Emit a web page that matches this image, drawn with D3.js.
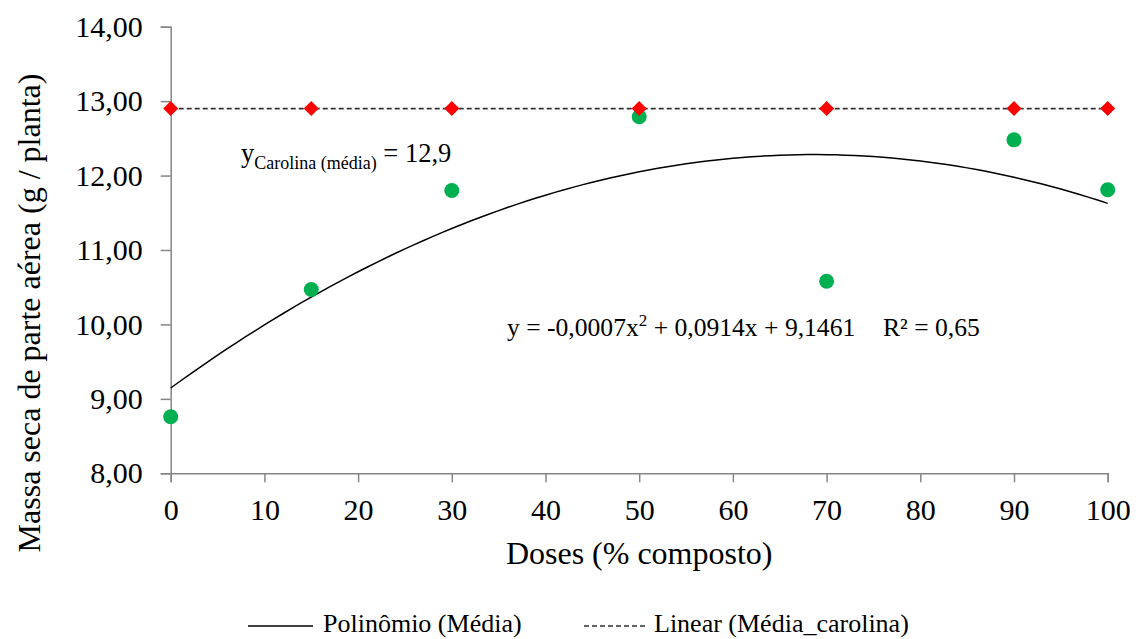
<!DOCTYPE html>
<html>
<head>
<meta charset="utf-8">
<script src="https://cdn.jsdelivr.net/npm/d3@7"></script>
<style>
  html, body { margin: 0; padding: 0; background: #fff; }
  svg { display: block; }
  svg text { font-family: "Liberation Serif", "Times New Roman", serif; fill: #000; }
</style>
</head>
<body>
<svg id="chart" width="1140" height="639"></svg>
<script>
// Doses of compost (% composto)
const doses = [0, 15, 30, 50, 70, 90, 100];
// Mean shoot dry mass per dose (g / planta)
const massaMedia = [8.76, 10.47, 11.80, 12.79, 10.58, 12.48, 11.81];
// Reference mean for Carolina at every dose
const mediaCarolina = [12.9, 12.9, 12.9, 12.9, 12.9, 12.9, 12.9];
// Quadratic trendline coefficients: a·x² + b·x + c
const polyCoef = [-0.000666, 0.0914, 9.1461];
const r2 = 0.65;
const xTicks = [0, 10, 20, 30, 40, 50, 60, 70, 80, 90, 100];
const yTicks = [8, 9, 10, 11, 12, 13, 14];

const svg = d3.select("#chart");
const axisColor = "#868686";

const x = d3.scaleLinear().domain([0, 100]).range([170.7, 1107.7]);
const y = d3.scaleLinear().domain([8, 14]).range([473.3, 26.7]);

const fmtComma = (v, d) => v.toFixed(d).replace(".", ",");

// Y axis
const yAxis = svg.append("g")
  .attr("transform", `translate(${x(0)},0)`)
  .call(d3.axisLeft(y).tickValues(yTicks).tickSize(10).tickPadding(18)
    .tickFormat(d => fmtComma(d, 2)));
yAxis.select(".domain").attr("stroke", axisColor).attr("stroke-width", 1.5);
yAxis.selectAll(".tick line").attr("stroke", axisColor).attr("stroke-width", 1.5);
yAxis.selectAll(".tick text").attr("font-size", 30);

// X axis
const xAxis = svg.append("g")
  .attr("transform", `translate(0,${y(8)})`)
  .call(d3.axisBottom(x).tickValues(xTicks).tickSize(9).tickPadding(16)
    .tickFormat(d => String(d)));
xAxis.select(".domain").attr("stroke", axisColor).attr("stroke-width", 1.5);
xAxis.selectAll(".tick line").attr("stroke", axisColor).attr("stroke-width", 1.5);
xAxis.selectAll(".tick text").attr("font-size", 30);

// Axis titles
svg.append("text")
  .attr("x", (x(0) + x(100)) / 2).attr("y", 564)
  .attr("text-anchor", "middle").attr("font-size", 32)
  .text("Doses (% composto)");

svg.append("text")
  .attr("transform", "translate(40,313) rotate(-90)")
  .attr("text-anchor", "middle").attr("font-size", 32)
  .text("Massa seca de parte aérea (g / planta)");

// Carolina mean: dashed linear trendline
const carolinaLine = d3.line().x((d, i) => x(doses[i])).y(d => y(d));
svg.append("path")
  .datum(mediaCarolina)
  .attr("d", carolinaLine)
  .attr("fill", "none").attr("stroke", "#333").attr("stroke-width", 1.6)
  .attr("stroke-dasharray", "5,3");

// Polynomial trendline over the dose range
const polyVal = t => polyCoef[0] * t * t + polyCoef[1] * t + polyCoef[2];
const curveX = d3.range(0, 100.5, 1);
svg.append("path")
  .datum(curveX)
  .attr("d", d3.line().x(d => x(d)).y(d => y(polyVal(d))))
  .attr("fill", "none").attr("stroke", "#000").attr("stroke-width", 1.5);

// Green points: mean values
svg.append("g").selectAll("circle")
  .data(massaMedia)
  .join("circle")
  .attr("cx", (d, i) => x(doses[i]))
  .attr("cy", d => y(d))
  .attr("r", 7.5)
  .attr("fill", "#00B050");

// Red diamonds: Carolina mean
svg.append("g").selectAll("path")
  .data(mediaCarolina)
  .join("path")
  .attr("transform", (d, i) => `translate(${x(doses[i])},${y(d)})`)
  .attr("d", "M0,-7.5L7.5,0L0,7.5L-7.5,0Z")
  .attr("fill", "#FF0000");

// Carolina mean label
const lab = svg.append("text").attr("x", 241).attr("y", 162).attr("font-size", 26.5);
lab.append("tspan").text("y");
lab.append("tspan").attr("font-size", 18).attr("dy", 6.5).text("Carolina (média)");
lab.append("tspan").attr("dy", -6.5).text(" = " + fmtComma(mediaCarolina[0], 1));

// Regression equation
const fmt4 = v => fmtComma(Math.abs(v), 4);
const eq = svg.append("text").attr("x", 507).attr("y", 336).attr("font-size", 25.6);
eq.append("tspan").text("y = " + (polyCoef[0] < 0 ? "-" : "") + fmt4(polyCoef[0]) + "x");
eq.append("tspan").attr("font-size", 17).attr("dy", -10).text("2");
eq.append("tspan").attr("dy", 10)
  .text(" + " + fmt4(polyCoef[1]) + "x + " + fmt4(polyCoef[2]));
svg.append("text").attr("x", 883).attr("y", 336).attr("font-size", 25.6)
  .text("R² = " + fmtComma(r2, 2));

// Legend
const leg = svg.append("g");
leg.append("line").attr("x1", 248).attr("x2", 313).attr("y1", 626).attr("y2", 626)
  .attr("stroke", "#000").attr("stroke-width", 1.5);
leg.append("text").attr("x", 323).attr("y", 632).attr("font-size", 26)
  .text("Polinômio (Média)");
leg.append("line").attr("x1", 584).attr("x2", 647).attr("y1", 626).attr("y2", 626)
  .attr("stroke", "#333").attr("stroke-width", 1.5).attr("stroke-dasharray", "5,3");
leg.append("text").attr("x", 654).attr("y", 632).attr("font-size", 26)
  .text("Linear (Média_carolina)");
</script>
</body>
</html>
